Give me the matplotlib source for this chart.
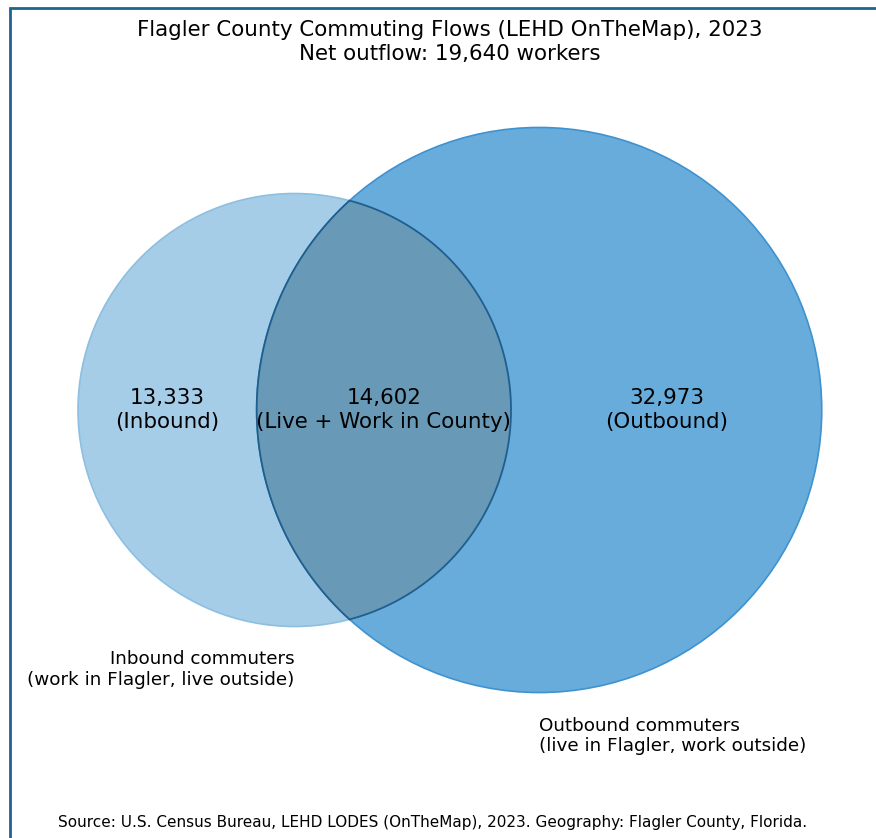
import numpy as np
import matplotlib
matplotlib.use("Agg")
import matplotlib.pyplot as plt
from matplotlib.patches import Circle, Polygon, Rectangle

# commuting counts (LEHD OnTheMap 2023)
inbound_only = 13333
live_work = 14602
outbound_only = 32973
net_outflow = 19640

region_names = ["Inbound", "Live + Work in County", "Outbound"]
set_labels = ["Inbound commuters\n(work in Flagler, live outside)",
              "Outbound commuters\n(live in Flagler, work outside)"]

# circle sizes proportional to set totals
area_a = inbound_only + live_work
area_b = outbound_only + live_work
r_a = np.sqrt(area_a / np.pi)
r_b = np.sqrt(area_b / np.pi)


def lens_area(d, r1, r2):
    if d >= r1 + r2:
        return 0.0
    if d <= abs(r1 - r2):
        return np.pi * min(r1, r2) ** 2
    a1 = r1 ** 2 * np.arccos((d ** 2 + r1 ** 2 - r2 ** 2) / (2 * d * r1))
    a2 = r2 ** 2 * np.arccos((d ** 2 + r2 ** 2 - r1 ** 2) / (2 * d * r2))
    a3 = 0.5 * np.sqrt((-d + r1 + r2) * (d + r1 - r2) * (d - r1 + r2) * (d + r1 + r2))
    return a1 + a2 - a3


# find centre distance so overlap area == live_work
lo, hi = abs(r_a - r_b), r_a + r_b
for _ in range(100):
    mid = (lo + hi) / 2
    if lens_area(mid, r_a, r_b) > live_work:
        lo = mid
    else:
        hi = mid
d = (lo + hi) / 2

ca = np.array([0.0, 0.0])
cb = np.array([d, 0.0])

# figure setup: pixels per data unit
W, H = 876, 838
s = 216.5 / r_a
fig = plt.figure(figsize=(W / 100, H / 100), dpi=100)
ax = fig.add_axes([0, 0, 1, 1])
ax.set_xlim(-294.5 / s, (W - 294.5) / s)
ax.set_ylim(-(H - 410) / s, 410 / s)
ax.set_aspect("equal")
ax.axis("off")

col_a = "#a6cde8"
col_b = "#68acdb"
col_ab = "#6899b6"

ax.add_patch(Circle(ca, r_a, facecolor=col_a, edgecolor="#8cbfe0", lw=1.2, zorder=1))
ax.add_patch(Circle(cb, r_b, facecolor=col_b, edgecolor="#3f92d0", lw=1.2, zorder=2))

# lens of the intersection
x_int = (d ** 2 + r_a ** 2 - r_b ** 2) / (2 * d)
y_int = np.sqrt(r_a ** 2 - x_int ** 2)
ta = np.arctan2(y_int, x_int)
tb = np.arctan2(y_int, x_int - d)
t1 = np.linspace(-ta, ta, 200)
t2 = np.linspace(tb, 2 * np.pi - tb, 200)
pts = np.vstack([np.column_stack([ca[0] + r_a * np.cos(t1), ca[1] + r_a * np.sin(t1)]),
                 np.column_stack([cb[0] + r_b * np.cos(t2), cb[1] + r_b * np.sin(t2)])])
ax.add_patch(Polygon(pts, closed=True, facecolor=col_ab, edgecolor="#1f5f8f", lw=1.3, zorder=3))

# region labels
fs = 15.4
ax.text(((ca[0] - r_a) + (cb[0] - r_b)) / 2, 0, f"{inbound_only:,}\n({region_names[0]})",
        ha="center", va="center", fontsize=fs, zorder=5)
ax.text(((cb[0] - r_b) + (ca[0] + r_a)) / 2, 0, f"{live_work:,}\n({region_names[1]})",
        ha="center", va="center", fontsize=fs, zorder=5)
ax.text(((ca[0] + r_a) + (cb[0] + r_b)) / 2, 0, f"{outbound_only:,}\n({region_names[2]})",
        ha="center", va="center", fontsize=fs, zorder=5)

# set labels
ax.text(ca[0], -r_a - 24 / s, set_labels[0], ha="right", va="top", fontsize=13.2)
ax.text(cb[0], -r_b - 24 / s, set_labels[1], ha="left", va="top", fontsize=13.2)

fig.text(450 / W, 1 - 42 / H,
         f"Flagler County Commuting Flows (LEHD OnTheMap), 2023\nNet outflow: {net_outflow:,} workers",
         ha="center", va="center", fontsize=15.4)
fig.text(433 / W, 1 - 822 / H,
         "Source: U.S. Census Bureau, LEHD LODES (OnTheMap), 2023. Geography: Flagler County, Florida.",
         ha="center", va="center", fontsize=11)

# frame line (left and top visible)
fig.patches.append(Rectangle((10 / W, -0.1), 1.2, 1.1 - 8 / H, transform=fig.transFigure,
                             fill=False, edgecolor="#1f6390", lw=2))

fig.savefig("out.png", dpi=100)
